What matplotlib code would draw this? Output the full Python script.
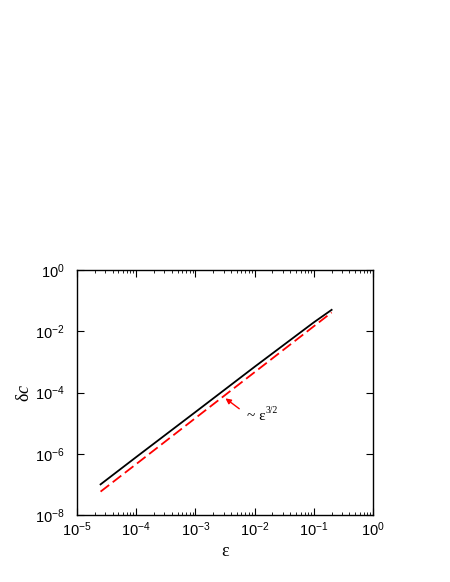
import matplotlib
matplotlib.use("Agg")
import matplotlib.pyplot as plt
from matplotlib.ticker import FixedLocator, NullFormatter, NullLocator

plt.rcParams['font.family'] = ['Liberation Sans', 'DejaVu Sans']
plt.rcParams['mathtext.fontset'] = 'custom'
plt.rcParams['mathtext.rm'] = 'Liberation Sans'
plt.rcParams['mathtext.it'] = 'Liberation Serif:italic'

# values
eps_black = [2.5e-5, 1e-4, 1e-3, 1e-2, 1e-1, 2e-1]
delta_black = [1.0e-7, 7.8e-7, 2.3e-5, 6.9e-4, 1.95e-2, 5.0e-2]

eps_red = [2.5e-5, 1e-4, 1e-3, 1e-2, 1e-1, 2e-1]
delta_red = [5.8e-8, 4.6e-7, 1.46e-5, 4.6e-4, 1.45e-2, 4.1e-2]

x_ticks = [1e-5, 1e-4, 1e-3, 1e-2, 1e-1, 1e0]
y_ticks = [1e-8, 1e-6, 1e-4, 1e-2, 1e0]

fig = plt.figure(figsize=(4.5, 5.82), dpi=100)
ax = fig.add_axes([77 / 450, 1 - 515 / 582, 296 / 450, 245 / 582])

ax.plot(eps_black, delta_black, color='black', lw=1.3)
ax.plot(eps_red, delta_red, color='red', lw=1.3, linestyle=(0, (6, 2.5)))

ax.set_xscale('log')
ax.set_yscale('log')
ax.set_xlim(1e-5, 1e0)
ax.set_ylim(1e-8, 1e0)

ax.set_xticks(x_ticks)
ax.set_yticks(y_ticks)
x_minor = [m * t for t in x_ticks[:-1] for m in range(2, 10)]
ax.xaxis.set_minor_locator(FixedLocator(x_minor))
ax.xaxis.set_minor_formatter(NullFormatter())
ax.yaxis.set_minor_locator(NullLocator())

ax.tick_params(which='both', direction='in', top=True, right=True, labelsize=10.5)
ax.tick_params(which='major', length=5)
ax.tick_params(which='minor', length=2.5)
ax.tick_params(axis='y', which='major', pad=9)
ax.tick_params(axis='x', which='major', pad=4)

for s in ax.spines.values():
    s.set_linewidth(1.0)

ax.set_xlabel('ε', fontsize=13, family='Liberation Serif', labelpad=3)
ax.set_ylabel(r'δ$c$', fontsize=13, family='Liberation Serif', labelpad=1)

ax.annotate('', xy=(2.95e-3, 7.3e-5), xytext=(6.0e-3, 2.6e-5),
            arrowprops=dict(arrowstyle='-|>', color='red', lw=1.0,
                            mutation_scale=8))
ax.text(7.5e-3, 1.7e-5, '~ ε', fontsize=11, family='Liberation Serif',
        va='center', ha='left')
ax.text(1.53e-2, 2.5e-5, '3/2', fontsize=7, family='Liberation Serif',
        va='center', ha='left')

fig.savefig('out.png', dpi=100)
